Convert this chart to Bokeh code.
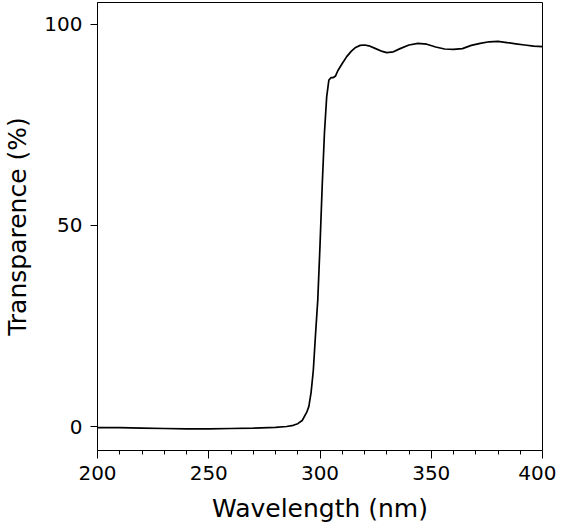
from bokeh.plotting import figure
from bokeh.models import Range1d, SingleIntervalTicker, FixedTicker
from bokeh.embed import file_html
from bokeh.resources import INLINE

wavelength = [200, 210, 220, 230, 240, 250, 260, 270, 280, 285, 288, 290, 292, 294, 295,
              296, 297, 298, 299, 300, 301, 302, 303, 304, 305, 306, 307, 308, 310, 312,
              314, 316, 318, 320, 322, 325, 328, 330, 333, 336, 340, 344, 348, 352, 356,
              360, 364, 368, 372, 376, 380, 384, 388, 392, 396, 400]
transparence = [-0.3, -0.3, -0.4, -0.5, -0.6, -0.6, -0.5, -0.4, -0.2, 0.0, 0.3, 0.7, 1.5, 3.5, 5.0,
                8.5, 14.0, 23.0, 31.5, 45.0, 60.0, 73.0, 82.0, 86.2, 86.8, 86.8, 87.2, 88.5, 90.3, 92.0,
                93.3, 94.3, 94.8, 94.9, 94.7, 94.0, 93.3, 93.0, 93.2, 94.0, 94.9, 95.3, 95.1, 94.4, 93.9,
                93.8, 94.0, 94.8, 95.3, 95.7, 95.8, 95.5, 95.2, 94.9, 94.6, 94.5]

x_ticks_interval = 50
y_ticks = [0, 50, 100]

p = figure(width=556, height=525, output_backend="svg", toolbar_location=None,
           x_range=Range1d(200, 400), y_range=Range1d(-5.97, 105.47),
           min_border_left=97, min_border_right=14, min_border_top=2, min_border_bottom=75)

p.line(wavelength, transparence, line_color="black", line_width=1.7)

p.xgrid.visible = False
p.ygrid.visible = False
p.outline_line_color = "black"
p.outline_line_width = 1
p.outline_line_alpha = 1

font = "DejaVu Sans"
p.xaxis.ticker = SingleIntervalTicker(interval=x_ticks_interval, num_minor_ticks=5)
p.yaxis.ticker = FixedTicker(ticks=y_ticks, minor_ticks=[])
p.xaxis.axis_label = "Wavelength (nm)"
p.yaxis.axis_label = "Transparence (%)"
for ax in (p.xaxis[0], p.yaxis[0]):
    ax.axis_label_text_font = font
    ax.axis_label_text_font_size = "25px"
    ax.axis_label_text_font_style = "normal"
    ax.axis_label_text_color = "black"
    ax.major_label_text_font = font
    ax.major_label_text_font_size = "20px"
    ax.major_label_text_color = "black"
    ax.axis_line_color = "black"
    ax.major_tick_line_color = "black"
    ax.minor_tick_line_color = "black"
    ax.major_tick_in = 0
    ax.minor_tick_in = 0

p.xaxis.major_tick_out = 8
p.xaxis.minor_tick_out = 4
p.xaxis.major_label_standoff = 7
p.xaxis.axis_label_standoff = 11
p.yaxis.major_tick_out = 7
p.yaxis.minor_tick_out = 0
p.yaxis.major_label_standoff = 8
p.yaxis.axis_label_standoff = 9

open("out.html", "w").write(file_html(p, INLINE))
